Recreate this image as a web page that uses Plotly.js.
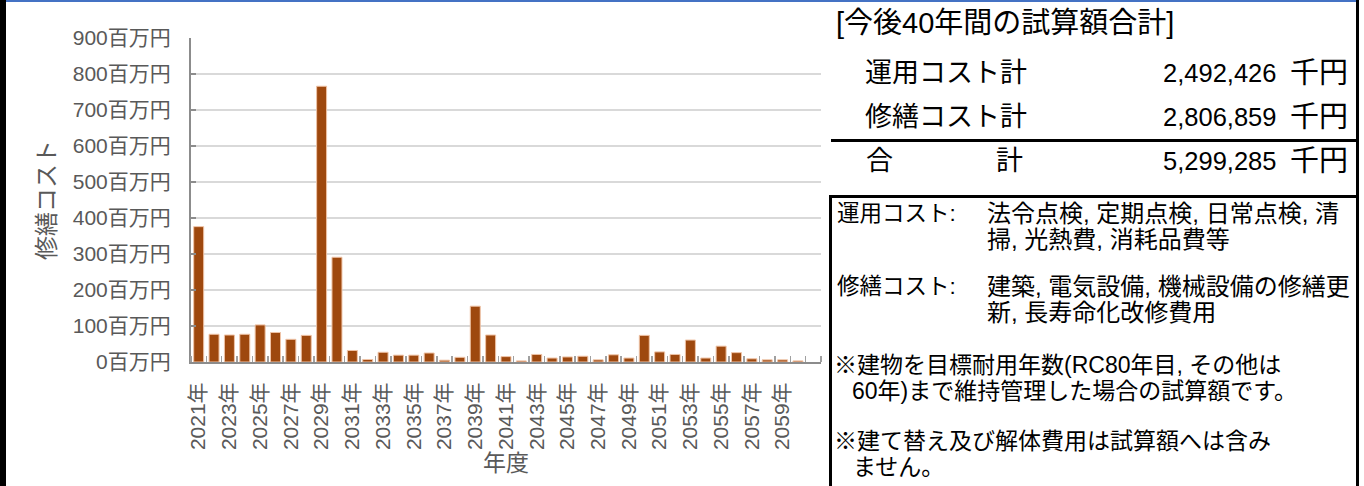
<!DOCTYPE html>
<html><head><meta charset="utf-8">
<script src="https://cdn.plot.ly/plotly-3.0.1.min.js"></script>
<style>html,body{margin:0;padding:0;background:#fff;overflow:hidden}#chart{width:1364px;height:486px}</style>
</head><body><div id="chart"></div>
<script>
// ---- data ----
const years = [2021,2022,2023,2024,2025,2026,2027,2028,2029,2030,
               2031,2032,2033,2034,2035,2036,2037,2038,2039,2040,
               2041,2042,2043,2044,2045,2046,2047,2048,2049,2050,
               2051,2052,2053,2054,2055,2056,2057,2058,2059,2060];
const repairCost = [376,77,75,77,103,82,63,74,766,291,
                    32,7,27,19,19,25,5,13,155,75,
                    15,3,21,11,14,16,6,20,11,74,
                    28,21,61,11,44,26,9,6,6,3]; // 百万円
const tickYears = [2021,2023,2025,2027,2029,2031,2033,2035,2037,2039,
                   2041,2043,2045,2047,2049,2051,2053,2055,2057,2059];
const tickLabels = ["2021年","2023年","2025年","2027年","2029年","2031年","2033年","2035年","2037年","2039年",
                    "2041年","2043年","2045年","2047年","2049年","2051年","2053年","2055年","2057年","2059年"];
const yTickValues = [0,100,200,300,400,500,600,700,800,900];
const yTickLabels = ["0百万円","100百万円","200百万円","300百万円","400百万円",
                     "500百万円","600百万円","700百万円","800百万円","900百万円"];
const yTitle = "修繕コスト";
const xTitle = "年度";
const summaryTitle = "[今後40年間の試算額合計]";
const summaryLabels = ["運用コスト計","修繕コスト計"];
const summaryValues = ["2,492,426","2,806,859"];
const totalLabelA = "合";
const totalLabelB = "計";
const totalValue = "5,299,285";
const unitLabel = "千円";
const noteHeads = ["運用コスト:","修繕コスト:"];
const noteBodies = [["法令点検, 定期点検, 日常点検, 清","掃, 光熱費, 消耗品費等"],
                    ["建築, 電気設備, 機械設備の修繕更","新, 長寿命化改修費用"]];
const remarks = [["※建物を目標耐用年数(RC80年目, その他は","60年)まで維持管理した場合の試算額です。"],
                 ["※建て替え及び解体費用は試算額へは含み","ません。"]];

// ---- layout helpers (pixel -> paper) ----
const L = 191, R = 821, T = 38, B = 362;
const px = x => (x - L) / (R - L);
const py = y => (B - y) / (B - T);
const FONT = "Liberation Sans, Noto Sans CJK JP, sans-serif";

function rect(x0, y0, x1, y1, color) {
  return {type:'rect', xref:'paper', yref:'paper', x0:px(x0), x1:px(x1), y0:py(y1), y1:py(y0),
          fillcolor:color, line:{width:0}, layer:'above'};
}
function txt(text, x, y, anchor, size) {
  return {xref:'paper', yref:'paper', x:px(x), y:py(y), xanchor:anchor, yanchor:'middle',
          text:text, showarrow:false, borderpad:0,
          font:{family:FONT, size:size, color:'#000'}};
}

const shapes = [
  rect(0, 0, 6, 486, '#000'),
  rect(6, 0, 1356, 2, '#4472C4'),
  rect(1356, 0, 1359, 486, '#000'),
  rect(831, 139, 1357, 142, '#000'),
  rect(829, 195, 1357, 198, '#000'),
  rect(829, 195, 832, 486, '#000')
];

const annotations = [
  txt(summaryTitle, 835, 23, 'left', 29),
  txt(summaryLabels[0], 864, 73, 'left', 27),
  txt(summaryValues[0], 1277, 73, 'right', 25.5),
  txt(unitLabel, 1289, 73, 'left', 29),
  txt(summaryLabels[1], 864, 117, 'left', 27),
  txt(summaryValues[1], 1277, 117, 'right', 25.5),
  txt(unitLabel, 1289, 117, 'left', 29),
  txt(totalLabelA, 865, 161, 'left', 27),
  txt(totalLabelB, 995, 161, 'left', 27),
  txt(totalValue, 1277, 161, 'right', 25.5),
  txt(unitLabel, 1289, 161, 'left', 29),
  txt(noteHeads[0], 836, 213, 'left', 22.5),
  txt(noteBodies[0][0], 986, 213, 'left', 24),
  txt(noteBodies[0][1], 986, 239, 'left', 24),
  txt(noteHeads[1], 836, 286, 'left', 22.5),
  txt(noteBodies[1][0], 986, 286, 'left', 24),
  txt(noteBodies[1][1], 986, 312, 'left', 24),
  txt(remarks[0][0], 833, 365, 'left', 23),
  txt(remarks[0][1], 851, 391, 'left', 23),
  txt(remarks[1][0], 833, 441, 'left', 23),
  txt(remarks[1][1], 852, 467, 'left', 23)
];

const trace = {
  type:'bar', x:years, y:repairCost,
  marker:{color:'#9E480E', line:{color:'#EFC3A6', width:1}},
  hoverinfo:'skip'
};

const layout = {
  width:1364, height:486,
  margin:{l:L, r:1364-R, t:T, b:486-B, pad:0},
  paper_bgcolor:'#fff', plot_bgcolor:'#fff',
  font:{family:FONT, color:'#595959'},
  showlegend:false, bargap:0.35,
  xaxis:{
    type:'linear', range:[2020.5, 2061.5], fixedrange:true,
    tickmode:'array', tickvals:tickYears, ticktext:tickLabels, tickangle:-90,
    ticks:'', showgrid:false, zeroline:false,
    showline:true, linecolor:'#8C8C8C', linewidth:2,
    tickfont:{family:FONT, size:21, color:'#595959'}, ticklabelstandoff:10,
    minor:{ticks:'inside', tick0:2020.5, dtick:1, ticklen:6, tickwidth:1.5, tickcolor:'#A0A0A0', showgrid:false},
    title:{text:xTitle, font:{family:FONT, size:23, color:'#595959'}, standoff:1},
    automargin:false
  },
  yaxis:{
    range:[0, 900], fixedrange:true,
    tickmode:'array', tickvals:yTickValues, ticktext:yTickLabels,
    ticks:'inside', ticklen:5, tickwidth:1.5, tickcolor:'#8C8C8C',
    showgrid:true, gridcolor:'#D9D9D9', gridwidth:1.5, zeroline:false,
    showline:true, linecolor:'#8C8C8C', linewidth:2,
    tickfont:{family:FONT, size:21, color:'#595959'}, ticklabelstandoff:14,
    title:{text:yTitle, font:{family:FONT, size:24, color:'#595959'}, standoff:10},
    automargin:false
  },
  shapes:shapes,
  annotations:annotations
};

Plotly.newPlot('chart', [trace], layout, {staticPlot:true, displayModeBar:false});
</script>
</body></html>
